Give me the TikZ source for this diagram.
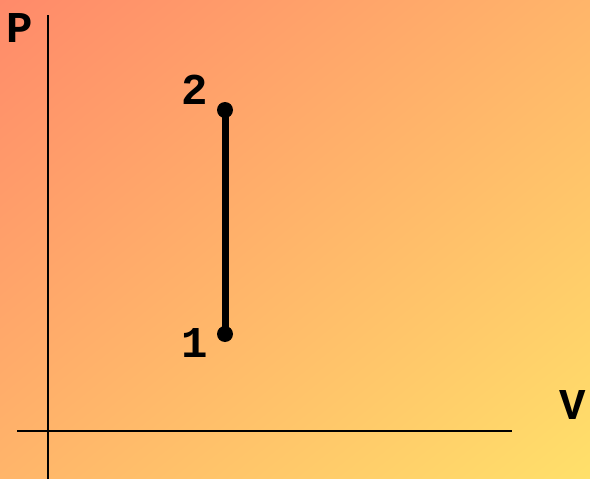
\documentclass[tikz,border=0pt]{standalone}
\usepackage{fontspec}
\usetikzlibrary{shadings}
\setmonofont{Liberation Mono}
\definecolor{tl}{RGB}{255,138,106}
\definecolor{br}{RGB}{255,224,106}
\definecolor{md}{RGB}{255,181,106}
\begin{document}
\begin{tikzpicture}[x=1pt,y=-1pt,
  axis/.style={line width=2pt,black},
  proc/.style={line width=7pt,black},
  pt/.style={circle,fill=black,inner sep=0pt,minimum size=16pt},
  lbl/.style={font=\ttfamily\bfseries\fontsize{44}{44}\selectfont,inner sep=0pt}]
\shade[upper left=tl,upper right=md,lower left=md,lower right=br] (0,0) rectangle (590,479);
\useasboundingbox (0,0) rectangle (590,479);
\coordinate (ytop) at (48,15);
\coordinate (ybot) at (48,479);
\coordinate (xl) at (17,431);
\coordinate (xr) at (512,431);
\draw[axis] (ytop) -- (ybot);
\draw[axis] (xl) -- (xr);
\node[pt] (p2) at (225,110) {};
\node[pt] (p1) at (225,334) {};
\draw[proc] (p1.center) -- (p2.center);
\node[lbl] (l2) at (195,90) {2};
\node[lbl] (l1) at (195,343) {1};
\node[lbl] (lP) at (20,28) {P};
\node[lbl] (lV) at (573,405) {V};
\end{tikzpicture}
\end{document}
